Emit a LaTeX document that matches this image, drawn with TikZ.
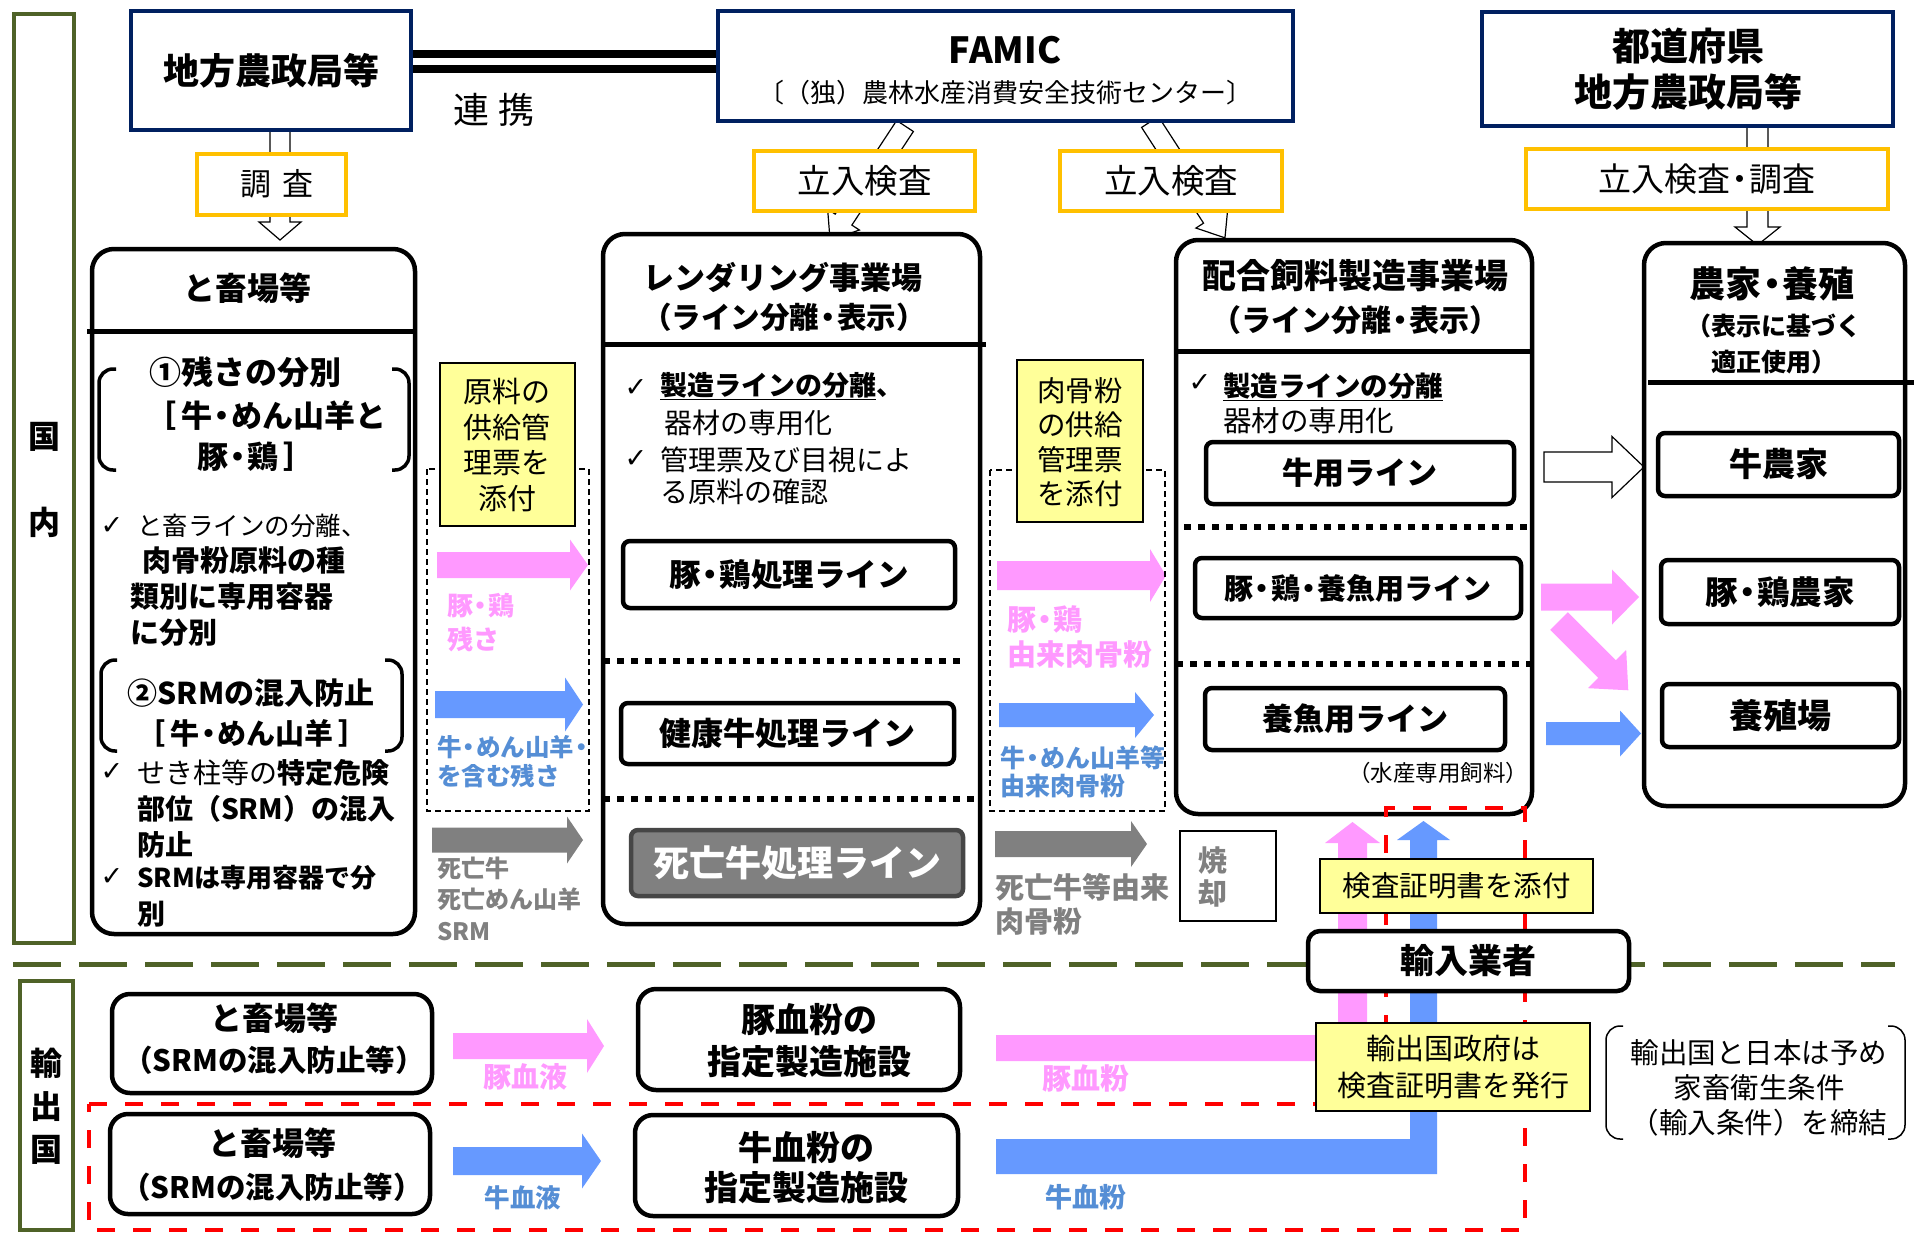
\documentclass[tikz,border=0pt]{standalone}
\usepackage{fontspec}
\setmainfont{Noto Sans CJK JP}
\newfontfamily\dejavu{DejaVu Sans}
\definecolor{navy}{RGB}{0,32,96}
\definecolor{gold}{RGB}{255,192,0}
\definecolor{oliveG}{RGB}{79,98,40}
\definecolor{pinkA}{RGB}{255,153,255}
\definecolor{blueA}{RGB}{102,153,255}
\definecolor{blueT}{RGB}{85,142,213}
\definecolor{grayA}{RGB}{128,128,128}
\definecolor{yelF}{RGB}{255,255,153}
\definecolor{redD}{RGB}{255,0,0}
\definecolor{darkG}{RGB}{70,70,70}
\newcommand\fsz[2]{\fontsize{#1}{#2}\selectfont}
\newcommand\chk{{\dejavu\fontsize{27}{30}\selectfont ✓}}
\newcommand\nd{{\kern-0.2em・\kern-0.2em}}
\newcommand\barr[7]{\path[#1] (#2,#5-#6) -- (#3,#5-#6) -- (#3,#5-#7) -- (#4,#5) -- (#3,#5+#7) -- (#3,#5+#6) -- (#2,#5+#6) -- cycle;}
\begin{document}
\begin{tikzpicture}[x=1pt,y=-1pt,
  lab/.style={inner sep=0pt, outer sep=0pt, align=center},
  labw/.style={inner sep=0pt, outer sep=0pt, align=left, anchor=west},
  greenbox/.style={draw=oliveG, line width=4.5pt},
  navybox/.style={draw=navy, line width=4.5pt, fill=white},
  goldbox/.style={draw=gold, line width=4.5pt, fill=white},
  bigbox/.style={draw=black, line width=4.5pt, rounded corners=22pt, fill=white},
  linebox/.style={draw=black, line width=4.5pt, rounded corners=7pt, fill=white},
  roundbox/.style={draw=black, line width=4.5pt, rounded corners=18pt, fill=white},
  yelbox/.style={draw=black, line width=1.5pt, fill=yelF, align=center},
  dashbox/.style={draw=black, line width=1.3pt, dash pattern=on 6pt off 4pt},
  sepline/.style={line width=5pt},
  dotline/.style={line width=6pt, dash pattern=on 7pt off 7pt},
  brk/.style={line width=3.5pt, rounded corners=14pt},
  whitearr/.style={fill=white, draw=black, line width=1.2pt},
  pinkarr/.style={fill=pinkA},
  bluearr/.style={fill=blueA},
  grayarr/.style={fill=grayA},
]
\path[use as bounding box, fill=white] (0,0) rectangle (1917,1234);

% ---- green frames
\node[greenbox, minimum width=60pt, minimum height=929pt] (kokunai) at (44,478.5) {};
\node[greenbox, minimum width=53pt, minimum height=249pt] (yushutsukoku) at (46.5,1105.5) {};
\draw[oliveG, line width=5pt, dash pattern=on 48pt off 18pt] (13,964) -- (1895,964);

% ---- block arrows
\barr{pinkarr}{437}{570}{588}{565}{13}{25.5}
\barr{bluearr}{435}{565}{583}{704.5}{13.5}{27}
\barr{grayarr}{432}{567}{583}{840}{12.5}{23.5}
\barr{pinkarr}{997}{1150}{1166}{575.5}{14.5}{26.5}
\barr{bluearr}{999}{1135}{1154}{715}{12}{23}
\barr{grayarr}{995}{1131}{1147}{844}{13}{23}
\barr{pinkarr}{1541}{1612}{1639}{597}{13.5}{27.5}
\barr{bluearr}{1546}{1620}{1641}{733.5}{11.5}{23}
\barr{whitearr}{1544}{1612}{1644}{467}{15}{30.5}
\barr{pinkarr}{453}{587}{604}{1046}{13}{27}
\barr{bluearr}{453}{582}{601}{1161}{14}{27.5}
\begin{scope}[shift={(1559,621)}, rotate=-45]
  \barr{pinkarr}{0}{68}{98}{0}{12.5}{27}
\end{scope}
\fill[pinkA] (996,1035) -- (1338,1035) -- (1338,843) -- (1325,843) -- (1352.5,822) -- (1380,843) -- (1367,843) -- (1367,1061) -- (996,1061) -- cycle;
\fill[blueA] (996,1139) -- (1410,1139) -- (1410,840) -- (1397,840) -- (1423.5,821) -- (1450,840) -- (1437,840) -- (1437,1174) -- (996,1174) -- cycle;
\begin{scope}[shift={(280,130)}, rotate=-90]
  \barr{whitearr}{0}{92}{110}{0}{10}{21}
\end{scope}
\begin{scope}[shift={(1757.5,126)}, rotate=-90]
  \barr{whitearr}{0}{101}{119}{0}{10.5}{22.5}
\end{scope}
\begin{scope}[shift={(905,126)}, rotate=236.7]
  \barr{whitearr}{0}{112}{136.5}{0}{10}{19}
\end{scope}
\begin{scope}[shift={(1150,122)}, rotate=-57.1]
  \barr{whitearr}{0}{114}{138}{0}{10}{19}
\end{scope}

% ---- top boxes
\node[navybox, minimum width=280pt, minimum height=119pt, font=\fsz{36}{43}\bfseries] (nosei) at (271,70.5) {地方農政局等};
\node[navybox, minimum width=575pt, minimum height=110pt] (famic) at (1005.5,66) {};
\node[navybox, minimum width=411pt, minimum height=114pt] (todo) at (1687.5,69) {};
\coordinate (dl1) at ([yshift=16.5pt]nosei.east);
\coordinate (dl2) at ([yshift=1.5pt]nosei.east);
\draw[line width=8pt] (dl1) -- (dl1 -| famic.west);
\draw[line width=8pt] (dl2) -- (dl2 -| famic.west);
\node[goldbox, minimum width=149pt, minimum height=61pt] (chosa) at (271.5,184.5) {};
\node[goldbox, minimum width=221pt, minimum height=60pt, font=\fsz{33.5}{40}] (tachi1) at (864.5,181) {立入検査};
\node[goldbox, minimum width=222pt, minimum height=60pt, font=\fsz{33.5}{40}] (tachi2) at (1171,181) {立入検査};
\node[goldbox, minimum width=362pt, minimum height=60pt, font=\fsz{33}{39}] (tachi3) at (1707,179) {立入検査\nd 調査};

% ---- big boxes
\node[bigbox, minimum width=323pt, minimum height=685pt] (tochiku) at (253.5,591.5) {};
\node[bigbox, minimum width=377pt, minimum height=690pt] (render) at (791.5,579) {};
\node[bigbox, minimum width=356pt, minimum height=574pt] (haigo) at (1354,527) {};
\node[bigbox, minimum width=261pt, minimum height=563pt] (noka) at (1774.5,524.5) {};
\draw[sepline] (87,331.5) -- (415,331.5);
\draw[sepline] (603,344) -- (986,344);
\draw[sepline] (1176,351) -- (1532,351);
\draw[sepline] (1648,382) -- (1914,382);
\draw[dotline] (603,661) -- (965,661);
\draw[dotline] (603,799) -- (974,799);
\draw[dotline] (1184,527) -- (1529,527);
\draw[dotline] (1176,664) -- (1532,664);

% brackets in tochiku
\draw[brk] (116,369) -- (99,369) -- (99,470) -- (116,470);
\draw[brk] (392,369) -- (409,369) -- (409,470) -- (392,470);
\draw[brk] (117,660) -- (101,660) -- (101,751) -- (117,751);
\draw[brk] (385,660) -- (402,660) -- (402,751) -- (385,751);

% dashed boxes and yellow notes
\draw[dashbox] (427,469) rectangle (589,811);
\draw[dashbox] (990,470) rectangle (1165,811);
\node[yelbox, minimum width=135pt, minimum height=163pt] (yel1) at (507.5,444.5) {};
\node[yelbox, minimum width=126pt, minimum height=162pt] (yel2) at (1080,441) {};

% inner line boxes
\node[linebox, minimum width=332pt, minimum height=67pt, font=\fsz{31.5}{37}\bfseries] (lineTB) at (789,574.5) {豚\nd 鶏処理ライン};
\node[linebox, minimum width=333pt, minimum height=61pt, font=\fsz{32}{38}\bfseries] (lineKG) at (787.5,733.5) {健康牛処理ライン};
\node[linebox, fill=grayA, draw=darkG, minimum width=332pt, minimum height=66pt, font=\fsz{36}{42}\bfseries, text=white] (lineSG) at (797,863) {死亡牛処理ライン};
\node[linebox, minimum width=308pt, minimum height=62pt, font=\fsz{31}{37}\bfseries] (lineGY) at (1360,473) {牛用ライン};
\node[linebox, minimum width=326pt, minimum height=60pt, font=\fsz{29}{35}\bfseries] (lineTBY) at (1358,588) {豚\nd 鶏\nd 養魚用ライン};
\node[linebox, minimum width=300pt, minimum height=62pt, font=\fsz{31}{37}\bfseries] (lineYG) at (1355,719) {養魚用ライン};
\node[linebox, minimum width=241pt, minimum height=63pt, font=\fsz{33}{39}\bfseries] (gyunoka) at (1778.5,464.5) {牛農家};
\node[linebox, minimum width=238pt, minimum height=64pt, font=\fsz{32.5}{38}\bfseries] (butanoka) at (1780,592) {豚\nd 鶏農家};
\node[linebox, minimum width=237pt, minimum height=63pt, font=\fsz{34}{40}\bfseries] (yoshoku) at (1780.5,715.5) {養殖場};
\node[draw=black, line width=1.5pt, minimum width=96pt, minimum height=90pt] (shokyaku) at (1228,876) {};

% ---- red dashed area
\draw[redD, line width=4pt, dash pattern=on 18pt off 18pt] (89,1104) -- (1386,1104) -- (1386,808) -- (1525,808) -- (1525,1230) -- (89,1230) -- cycle;

% ---- import boxes
\node[yelbox, minimum width=273pt, minimum height=54pt, font=\fsz{28.5}{34}] (kensa) at (1456.5,886) {検査証明書を添付};
\node[draw=black, line width=4.5pt, rounded corners=12pt, fill=white, minimum width=321pt, minimum height=60pt, font=\fsz{34}{40}\bfseries] (yunyu) at (1468.5,961) {輸入業者};
\node[yelbox, minimum width=274pt, minimum height=88pt, font=\fsz{29}{37}] (seifu) at (1453,1067) {輸出国政府は\\検査証明書を発行};
\draw[line width=1.5pt, rounded corners=14pt] (1623,1026) -- (1606,1026) -- (1606,1139) -- (1623,1139);
\draw[line width=1.5pt, rounded corners=14pt] (1888,1026) -- (1905,1026) -- (1905,1139) -- (1888,1139);
\node[lab, font=\fsz{28.5}{35}] (tNote) at (1759,1088) {輸出国と日本は予め\\家畜衛生条件\\（輸入条件）を締結};

% ---- bottom boxes
\node[roundbox, minimum width=320pt, minimum height=99pt] (btochiku1) at (272,1043.5) {};
\node[roundbox, minimum width=320pt, minimum height=100pt] (btochiku2) at (270,1164) {};
\node[roundbox, minimum width=322pt, minimum height=101pt] (butaketsu) at (799,1039.5) {};
\node[roundbox, minimum width=323pt, minimum height=101pt] (gyuketsu) at (796.5,1165.5) {};

% ---- texts
\node[lab, font=\fsz{32}{38}\bfseries] (tKoku) at (44,437) {国};
\node[lab, font=\fsz{32}{38}\bfseries] (tNai) at (44,522) {内};
\node[lab, font=\fsz{32}{43}\bfseries] (tYushutsu) at (46,1106) {輸\\出\\国};

\node[lab, font=\fsz{36}{43}] (tRenkei) at (494,110) {連\hspace{10pt}携};
\node[lab, font=\fsz{36}{43}\bfseries] (tFamic) at (1005,50) {FAMIC};
\node[lab, font=\fsz{26}{31}] (tFamicSub) at (1005,93) {〔（独）農林水産消費安全技術センター〕};
\node[lab, font=\fsz{38}{46}\bfseries] (tTodo) at (1688,69) {都道府県\\地方農政局等};
\node[lab, font=\fsz{31}{37}] (tChosa) at (277,184) {調\hspace{12pt}査};

\node[lab, font=\fsz{32}{38}\bfseries] (tTochiku) at (247,288) {と畜場等};
\node[lab, font=\fsz{32}{38}\bfseries] (tZansa1) at (245,372) {①残さの分別};
\node[lab, font=\fsz{31}{36}\bfseries] (tZansa2) at (266,416) {［\,牛\nd めん山羊と};
\node[lab, font=\fsz{31}{36}\bfseries] (tZansa3) at (256,457) {豚\nd 鶏\,］};
\node[lab] (ck1) at (112,526) {\chk};
\node[labw, font=\fsz{25.5}{30}] (tC1) at (137,526) {と畜ラインの分離、};
\node[labw, font=\fsz{29}{34}\bfseries] (tC2) at (142,561) {肉骨粉原料の種};
\node[labw, font=\fsz{29}{34}\bfseries] (tC3) at (130,597) {類別に専用容器};
\node[labw, font=\fsz{29}{34}\bfseries] (tC4) at (130,633) {に分別};
\node[lab, font=\fsz{30}{36}\bfseries] (tSrm1) at (251,693) {②SRMの混入防止};
\node[lab, font=\fsz{29}{34}\bfseries] (tSrm2) at (252,733) {［\,牛\nd めん山羊\,］};
\node[lab] (ck2) at (112,772) {\chk};
\node[labw, font=\fsz{28}{34}] (tC5) at (137,773) {せき柱等の{\bfseries 特定危険}};
\node[labw, font=\fsz{28}{34}\bfseries] (tC6) at (137,809) {部位（SRM）の混入};
\node[labw, font=\fsz{28}{34}\bfseries] (tC7) at (137,845) {防止};
\node[lab] (ck3) at (112,877) {\chk};
\node[labw, font=\fsz{26}{34}\bfseries] (tC8) at (137,878) {SRMは専用容器で分};
\node[labw, font=\fsz{28}{34}\bfseries] (tC9) at (137,914) {別};

\node[lab, font=\fsz{29}{35.5}] (tYel1) at (507,445) {原料の\\供給管\\理票を\\添付};
\node[labw, font=\fsz{26}{34}\bfseries, text=pinkA] (lP1) at (447,623) {豚\nd 鶏\\残さ};
\node[labw, font=\fsz{24.5}{29}\bfseries, text=blueT] (lB1) at (437,761.5) {牛\nd めん山羊\nd\\を含む残さ};
\node[labw, font=\fsz{24}{31.5}\bfseries, text=grayA] (lG1) at (437,898.5) {死亡牛\\死亡めん山羊\\SRM};

\node[lab, font=\fsz{31}{37}\bfseries] (tRender1) at (783,277) {レンダリング事業場};
\node[lab, font=\fsz{29.5}{34}\bfseries] (tRender2) at (784,317) {（ライン分離\nd 表示）};
\node[lab] (ck4) at (636,388) {\chk};
\node[labw, font=\fsz{27}{32}\bfseries] (tR1) at (660,386) {\underline{製造ラインの分離}、};
\node[labw, font=\fsz{28}{32}] (tR2) at (664,423) {器材の専用化};
\node[lab] (ck5) at (636,459) {\chk};
\node[labw, font=\fsz{28}{32}] (tR3) at (660,460) {管理票及び目視によ};
\node[labw, font=\fsz{28}{32}] (tR4) at (660,492) {る原料の確認};

\node[lab, font=\fsz{28.5}{34.5}] (tYel2) at (1080,442) {肉骨粉\\の供給\\管理票\\を添付};
\node[labw, font=\fsz{29}{35}\bfseries, text=pinkA] (lP2) at (1007,637.5) {豚\nd 鶏\\由来肉骨粉};
\node[labw, font=\fsz{25}{28}\bfseries, text=blueT] (lB2) at (1000,772) {牛\nd めん山羊等\\由来肉骨粉};
\node[labw, font=\fsz{29}{34}\bfseries, text=grayA] (lG2) at (995,904) {死亡牛等由来\\肉骨粉};
\node[lab, font=\fsz{29}{33}\bfseries, text=grayA] (tShokyaku) at (1213,876.5) {焼\\却};

\node[lab, font=\fsz{34}{40}\bfseries] (tHaigo1) at (1355,276) {配合飼料製造事業場};
\node[lab, font=\fsz{30}{35}\bfseries] (tHaigo2) at (1355,320) {（ライン分離\nd 表示）};
\node[lab] (ck6) at (1200,383) {\chk};
\node[labw, font=\fsz{27.5}{32}\bfseries] (tH1) at (1223,387) {\underline{製造ラインの分離}};
\node[labw, font=\fsz{28.5}{32}] (tH2) at (1223,421) {器材の専用化};
\node[lab, font=\fsz{22.5}{27}] (tSuisan) at (1438,773) {（水産専用飼料）};

\node[lab, font=\fsz{36}{42}\bfseries] (tNoka1) at (1772,284) {農家\nd 養殖};
\node[lab, font=\fsz{25}{36}\bfseries] (tNoka2) at (1774,344) {（表示に基づく\\適正使用）};

\node[lab, font=\fsz{32}{38}\bfseries] (tBT1a) at (274,1018) {と畜場等};
\node[lab, font=\fsz{29.5}{35}\bfseries] (tBT1b) at (274,1060) {（SRMの混入防止等）};
\node[lab, font=\fsz{32}{38}\bfseries] (tBT2a) at (272,1143) {と畜場等};
\node[lab, font=\fsz{29.5}{35}\bfseries] (tBT2b) at (272,1187) {（SRMの混入防止等）};
\node[lab, font=\fsz{34}{42}\bfseries] (tBK) at (809,1041) {豚血粉の\\指定製造施設};
\node[lab, font=\fsz{34}{40}\bfseries] (tGK) at (806,1168) {牛血粉の\\指定製造施設};
\node[lab, font=\fsz{28}{34}\bfseries, text=pinkA] (lPb) at (525,1077) {豚血液};
\node[lab, font=\fsz{25.5}{30}\bfseries, text=blueT] (lBb) at (523,1198) {牛血液};
\node[lab, font=\fsz{29}{34}\bfseries, text=pinkA] (lPk) at (1086,1078) {豚血粉};
\node[lab, font=\fsz{27}{32}\bfseries, text=blueT] (lBk) at (1086,1197) {牛血粉};
\end{tikzpicture}
\end{document}
